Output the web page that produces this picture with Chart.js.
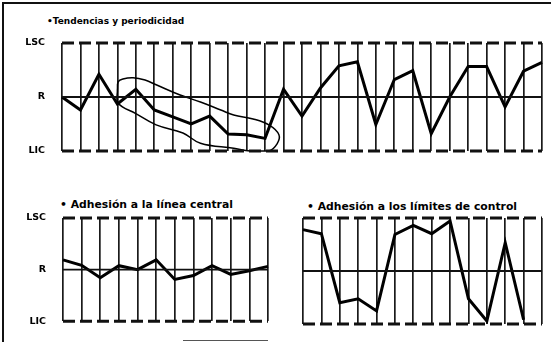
<!DOCTYPE html>
<html>
<head>
<meta charset="utf-8">
<script src="https://cdn.jsdelivr.net/npm/chart.js@4/dist/chart.umd.min.js"></script>
<style>
  body { margin: 0; background: #fff; width: 551px; height: 344px; position: relative; overflow: hidden; font-family: 'DejaVu Sans', sans-serif; }
  canvas { position: absolute; }
  #frame { position: absolute; left: 2px; top: 2px; width: 600px; height: 338px; border-left: 2px solid #111; border-top: 2px solid #111; }
  #scrap { position: absolute; left: 183px; top: 340px; width: 85px; height: 1px; background: #555; }
  .title { position: absolute; font-weight: bold; color: #000; white-space: nowrap; }
  #t-top { left: 47px; top: 15px; font-size: 9px; line-height: 12px; }
  #t-left { left: 60px; top: 198px; font-size: 10.8px; line-height: 13px; }
  #t-right { left: 307px; top: 200px; font-size: 10.8px; line-height: 13px; }
  #top { left: 0; top: 0; }
  #left { left: 0; top: 178px; }
  #right { left: 285px; top: 178px; }
</style>
</head>
<body>
<div id="frame"></div>
<div id="scrap"></div>
<div class="title" id="t-top">•Tendencias y periodicidad</div>
<div class="title" id="t-left">• Adhesión a la línea central</div>
<div class="title" id="t-right">• Adhesión a los límites de control</div>
<canvas id="top" width="551" height="178"></canvas>
<canvas id="left" width="285" height="166"></canvas>
<canvas id="right" width="266" height="166"></canvas>
<script>
// control limits (in sigma units) and their labels
const limitValues = [3, 0, -3];
const limitLabels = ["LSC", "R", "LIC"];

// Tendencias y periodicidad
const topSamples = [1, 2, 3, 4, 5, 6, 7, 8, 9, 10, 11, 12, 13, 14, 15, 16, 17, 18, 19, 20, 21, 22, 23, 24, 25, 26, 27];
const topValues = [0, -0.72, 1.26, -0.39, 0.43, -0.72, -1.1, -1.5, -1.06, -2.06, -2.1, -2.3, 0.43, -1.06, 0.5, 1.73, 1.96, -1.53, 0.97, 1.46, -2.04, 0, 1.69, 1.69, -0.55, 1.43, 1.92];
// hand-drawn loop around the falling run (sample number, sigma)
const loopX = [4, 4.05, 4.3, 4.85, 5.5, 6.1, 7.4, 8.5, 9.6, 10.3, 11.35, 12.25, 12.75, 12.65, 12.2, 11.2, 10.3, 8.5, 7.55, 6.1, 5.0, 4.05, 4];
const loopY = [0.4, 0.85, 1.0, 1.07, 0.94, 0.68, 0.11, -0.28, -0.72, -1.0, -1.22, -1.58, -2.1, -2.6, -3.0, -3.0, -2.85, -2.57, -2.0, -1.55, -0.92, -0.35, 0.4];

// Adhesión a la línea central
const leftSamples = [1, 2, 3, 4, 5, 6, 7, 8, 9, 10, 11, 12];
const leftValues = [0.57, 0.25, -0.47, 0.23, 0, 0.57, -0.57, -0.34, 0.23, -0.28, -0.06, 0.19];

// Adhesión a los límites de control
const rightSamples = [1, 2, 3, 4, 5, 6, 7, 8, 9, 10, 11, 12, 13, 14];
const rightValues = [2.34, 2.11, -1.79, -1.57, -2.26, 2.07, 2.58, 2.11, 2.83, -1.57, -2.83, 1.6, -2.76];

const FONT = "'DejaVu Sans', sans-serif";

function buildChart(id, cfg) {
    const first = cfg.samples[0];
    const last = cfg.samples[cfg.samples.length - 1];
    const datasets = [];

    limitValues.forEach(v => {
        datasets.push({
            data: [{ x: first, y: v }, { x: last, y: v }],
            borderColor: "#111",
            borderWidth: v === 0 ? 1.8 : 3,
            borderDash: v === 0 ? [] : [12, 5],
            pointRadius: 0,
            clip: false
        });
    });

    datasets.push({
        data: cfg.values.map((v, i) => ({ x: cfg.samples[i], y: v })),
        borderColor: "#000",
        borderWidth: 3,
        pointRadius: 0,
        clip: false
    });

    if (cfg.loopX) {
        datasets.push({
            data: cfg.loopX.map((x, i) => ({ x: x, y: cfg.loopY[i] })),
            borderColor: "#000",
            borderWidth: 1.5,
            tension: 0.4,
            pointRadius: 0,
            clip: false
        });
    }

    return new Chart(document.getElementById(id), {
        type: "line",
        data: { datasets },
        options: {
            responsive: false,
            animation: false,
            events: [],
            layout: { padding: cfg.padding },
            plugins: {
                legend: { display: false },
                tooltip: { enabled: false }
            },
            scales: {
                x: {
                    type: "linear",
                    min: first,
                    max: last,
                    afterBuildTicks: s => { s.ticks = cfg.samples.map(v => ({ value: v })); },
                    afterFit: s => { s.height = 0; },
                    ticks: { display: false },
                    grid: { color: "#1a1a1a", lineWidth: 1.7, drawTicks: false },
                    border: { display: false }
                },
                y: {
                    type: "linear",
                    min: -3,
                    max: 3,
                    afterBuildTicks: s => { s.ticks = limitValues.map(v => ({ value: v })); },
                    afterFit: s => { s.width = cfg.axisWidth; },
                    ticks: {
                        display: cfg.showLabels,
                        padding: 17,
                        color: "#000",
                        font: { family: FONT, size: 9.5, weight: "bold" },
                        callback: v => limitLabels[limitValues.indexOf(v)]
                    },
                    grid: { display: false, drawTicks: false },
                    border: { display: false }
                }
            }
        }
    });
}

buildChart("top", {
    samples: topSamples, values: topValues, loopX: loopX, loopY: loopY,
    padding: { left: 0, right: 9, top: 43, bottom: 27 },
    axisWidth: 62, showLabels: true
});

buildChart("left", {
    samples: leftSamples, values: leftValues,
    padding: { left: 0, right: 17, top: 40, bottom: 20 },
    axisWidth: 63, showLabels: true
});

buildChart("right", {
    samples: rightSamples, values: rightValues,
    padding: { left: 18, right: 9, top: 40, bottom: 20 },
    axisWidth: 0, showLabels: false
});
</script>
</body>
</html>
